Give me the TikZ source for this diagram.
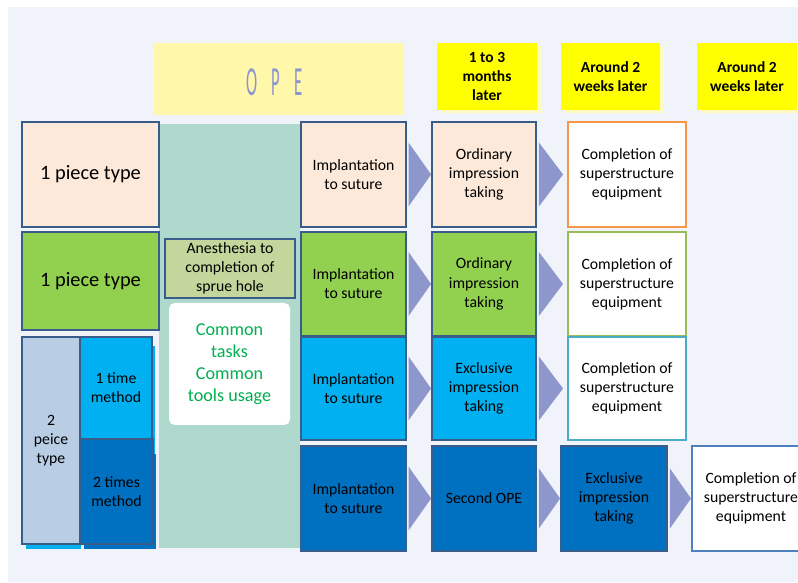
\documentclass[tikz,border=0pt]{standalone}
\usepackage{fontspec}
\setmainfont{Carlito}
\usepackage{graphicx}
\usetikzlibrary{positioning, calc, shadows}

\definecolor{panelgray}{RGB}{240, 243, 249}
\definecolor{edgeblue}{RGB}{56, 93, 138}
\definecolor{peach}{RGB}{253, 233, 217}
\definecolor{leafgreen}{RGB}{146, 208, 80}
\definecolor{olive}{RGB}{195, 214, 155}
\definecolor{skyblue}{RGB}{0, 176, 240}
\definecolor{deepblue}{RGB}{0, 112, 192}
\definecolor{steel}{RGB}{185, 205, 229}
\definecolor{teal1}{RGB}{175, 217, 204}
\definecolor{hdryellow}{RGB}{255, 255, 0}
\definecolor{hdrglow}{RGB}{255, 250, 190}
\definecolor{paleyellow}{RGB}{255, 247, 170}
\definecolor{opeblue}{RGB}{140, 150, 205}
\definecolor{chevblue}{RGB}{142, 151, 204}
\definecolor{orange1}{RGB}{247, 150, 70}
\definecolor{green1}{RGB}{155, 187, 89}
\definecolor{cyan1}{RGB}{75, 172, 198}
\definecolor{blue1}{RGB}{79, 129, 189}
\definecolor{taskgreen}{RGB}{0, 176, 80}

\tikzset{
  cell/.style={draw=edgeblue, line width=1.3pt, align=center, inner sep=2pt,
    font=\fontsize{11.2}{13.6}\selectfont},
  donebox/.style={cell, fill=white, line width=1.4pt},
  hdr/.style={fill=hdryellow, align=center, inner sep=2pt,
    font=\fontsize{11}{13.6}\selectfont\bfseries,
    drop shadow={fill=hdrglow, shadow xshift=3pt, shadow yshift=-2pt, opacity=1}},
  chevron/.style={fill=chevblue}
}

\begin{document}
\begin{tikzpicture}
  \useasboundingbox (0, 0) rectangle (19.95, 14.55);
  \fill[panelgray] (0.2, 0) rectangle (19.95, 14.375);

  % OPE band and the shared column
  \node[fill=paleyellow, minimum width=6.25cm, minimum height=1.8cm] (opeband) at (6.975, 12.575) {};
  \node[text=opeblue, font=\fontsize{14}{14}\selectfont] (opetext) at (6.8625, 12.4875) {
    \scalebox{0.85}[2.1]{O\hspace{0.85em}P\hspace{0.85em}E}
  };
  \node[fill=teal1, minimum width=3.525cm, minimum height=10.6cm] (common) at (5.7375, 6.15) {};

  % Time headers
  \node[hdr, minimum width=2.5cm, minimum height=1.675cm] (hdrA) at (12.175, 12.6375) {1 to 3\\months\\later};
  \node[hdr, minimum width=2.475cm, minimum height=1.675cm] (hdrB) at (15.2625, 12.6375) {Around 2\\weeks later};
  \node[hdr, minimum width=2.5cm, minimum height=1.675cm] (hdrC) at (18.675, 12.6375) {Around 2\\weeks later};

  % Implant types
  \fill[skyblue] (0.65, 0.825) rectangle (2.025, 5.9);
  \fill[skyblue] (2.0, 3.2) rectangle (3.875, 5.9);
  \fill[deepblue] (2.1, 0.825) rectangle (3.9, 3.2);
  \node[cell, fill=peach, minimum width=3.425cm, minimum height=2.625cm, font=\fontsize{14.5}{17}\selectfont] (typeA) at (2.2625, 10.1875) {1 piece type};
  \node[cell, fill=leafgreen, minimum width=3.425cm, minimum height=2.45cm, font=\fontsize{14.5}{17}\selectfont] (typeB) at (2.2625, 7.525) {1 piece type};
  \node[cell, fill=steel, minimum width=1.45cm, minimum height=5.175cm] (typeC) at (1.275, 3.5375) {2\\peice\\type};
  \node[cell, fill=skyblue, minimum width=1.8cm, minimum height=2.55cm] (methA) at (2.9, 4.85) {1 time\\method};
  \node[cell, fill=deepblue, minimum width=1.825cm, minimum height=2.625cm] (methB) at (2.9125, 2.2625) {2 times\\method};

  % Common part of the operation
  \node[cell, fill=olive, minimum width=3.25cm, minimum height=1.475cm] (anest) at (5.75, 7.8375) {Anesthesia to\\completion of\\sprue hole};
  \node[fill=white, rounded corners=4pt, minimum width=3.025cm, minimum height=3.05cm, align=center, text=taskgreen,
    font=\fontsize{12.9}{15.6}\selectfont] (tasks) at (5.7375, 5.45) {Common\\tasks\\Common\\tools usage};

  % Implantation
  \node[cell, fill=peach, minimum width=2.625cm, minimum height=2.625cm] (impA) at (8.8375, 10.1875) {Implantation\\to suture};
  \node[cell, fill=leafgreen, minimum width=2.625cm, minimum height=2.6cm] (impB) at (8.8375, 7.45) {Implantation\\to suture};
  \node[cell, fill=skyblue, minimum width=2.625cm, minimum height=2.575cm] (impC) at (8.8375, 4.8375) {Implantation\\to suture};
  \node[cell, fill=deepblue, minimum width=2.625cm, minimum height=2.625cm] (impD) at (8.8375, 2.0875) {Implantation\\to suture};

  % Impressions and second OPE
  \node[cell, fill=peach, minimum width=2.6cm, minimum height=2.625cm] (ordA) at (12.1, 10.1875) {Ordinary\\impression\\taking};
  \node[cell, fill=leafgreen, minimum width=2.6cm, minimum height=2.6cm] (ordB) at (12.1, 7.45) {Ordinary\\impression\\taking};
  \node[cell, fill=skyblue, minimum width=2.6cm, minimum height=2.575cm] (exclC) at (12.1, 4.8375) {Exclusive\\impression\\taking};
  \node[cell, fill=deepblue, minimum width=2.6cm, minimum height=2.625cm] (secD) at (12.1, 2.0875) {Second OPE};
  \node[cell, fill=deepblue, minimum width=2.65cm, minimum height=2.625cm] (exclD) at (15.35, 2.0875) {Exclusive\\impression\\taking};

  % Completion
  \node[donebox, draw=orange1, minimum width=2.95cm, minimum height=2.625cm] (compA) at (15.675, 10.1875) {Completion of\\superstructure\\equipment};
  \node[donebox, draw=green1, minimum width=2.95cm, minimum height=2.6cm] (compB) at (15.675, 7.45) {Completion of\\superstructure\\equipment};
  \node[donebox, draw=cyan1, minimum width=2.95cm, minimum height=2.575cm] (compC) at (15.675, 4.8375) {Completion of\\superstructure\\equipment};
  \node[donebox, draw=blue1, minimum width=2.95cm, minimum height=2.625cm] (compD) at (18.775, 2.0875) {Completion of\\superstructure\\equipment};

  % Step arrows
  \fill[chevron] ($(impA.east)+(0.04,0.8)$) -- (ordA.west) -- ($(impA.east)+(0.04,-0.8)$) -- cycle;
  \fill[chevron] ($(impB.east)+(0.04,0.8)$) -- (ordB.west) -- ($(impB.east)+(0.04,-0.8)$) -- cycle;
  \fill[chevron] ($(impC.east)+(0.04,0.8)$) -- (exclC.west) -- ($(impC.east)+(0.04,-0.8)$) -- cycle;
  \fill[chevron] ($(impD.east)+(0.04,0.8)$) -- (secD.west) -- ($(impD.east)+(0.04,-0.8)$) -- cycle;
  \fill[chevron] ($(ordA.east)+(0.05,0.8)$) -- ($(compA.west)+(-0.1,0)$) -- ($(ordA.east)+(0.05,-0.8)$) -- cycle;
  \fill[chevron] ($(ordB.east)+(0.05,0.8)$) -- ($(compB.west)+(-0.1,0)$) -- ($(ordB.east)+(0.05,-0.8)$) -- cycle;
  \fill[chevron] ($(exclC.east)+(0.05,0.8)$) -- ($(compC.west)+(-0.1,0)$) -- ($(exclC.east)+(0.05,-0.8)$) -- cycle;
  \fill[chevron] ($(secD.east)+(0.05,0.75)$) -- (exclD.west) -- ($(secD.east)+(0.05,-0.75)$) -- cycle;
  \fill[chevron] ($(exclD.east)+(0.05,0.75)$) -- (compD.west) -- ($(exclD.east)+(0.05,-0.75)$) -- cycle;
\end{tikzpicture}
\end{document}
